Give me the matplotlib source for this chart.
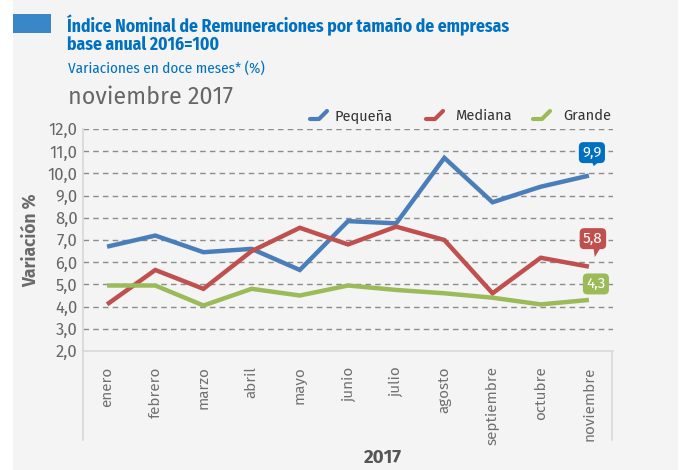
import matplotlib
matplotlib.use("Agg")
import matplotlib.pyplot as plt
from matplotlib.lines import Line2D
from matplotlib.patches import Rectangle

months = ["enero", "febrero", "marzo", "abril", "mayo", "junio", "julio",
          "agosto", "septiembre", "octubre", "noviembre"]
pequena = [6.7, 7.2, 6.45, 6.6, 5.65, 7.85, 7.75, 10.7, 8.7, 9.4, 9.9]
mediana = [4.1, 5.65, 4.8, 6.5, 7.55, 6.8, 7.6, 7.0, 4.6, 6.2, 5.8]
grande = [4.95, 4.95, 4.05, 4.8, 4.5, 4.95, 4.75, 4.6, 4.4, 4.1, 4.3]
yticks = [2.0, 3.0, 4.0, 5.0, 6.0, 7.0, 8.0, 9.0, 10.0, 11.0, 12.0]
series_names = ["Pequeña", "Mediana", "Grande"]
colors = ["#4a7ebb", "#c0504d", "#9bbb59"]
label_colors = ["#0070c0", "#c0504d", "#9bbb59"]

W, H = 683, 470
fig = plt.figure(figsize=(W / 100, H / 100), dpi=100)
fig.patch.set_facecolor("white")
r = fig.canvas.get_renderer()

def fx(px):
    return px / W

def fy(py):
    return 1 - py / H

def fit(t, target):
    w = t.get_window_extent(r).width
    t.set_fontsize(t.get_fontsize() * target / w)

# background panel
fig.patches.append(Rectangle((fx(13), 0), fx(678) - fx(13), 1, transform=fig.transFigure,
                             facecolor="#f4f4f4", edgecolor="none", zorder=-5))
# blue header block
fig.patches.append(Rectangle((fx(13), fy(33)), fx(51) - fx(13), fy(14) - fy(33),
                             transform=fig.transFigure, facecolor="#3a87c8",
                             edgecolor="none", zorder=-4))

cond = ["Fira Sans Condensed", "Roboto Condensed", "DejaVu Sans"]
fira = ["Fira Sans", "Open Sans", "DejaVu Sans"]
t1 = fig.text(fx(67), fy(32), "Índice Nominal de Remuneraciones por tamaño de empresas",
              family=cond, fontweight="bold", fontsize=17, color="#0070c0",
              ha="left", va="baseline")
t2 = fig.text(fx(67), fy(50), "base anual 2016=100",
              family=cond, fontweight="bold", fontsize=17, color="#0070c0",
              ha="left", va="baseline")
fit(t1, 443)
t2.set_fontsize(t1.get_fontsize())

t3 = fig.text(fx(68), fy(73), "Variaciones en doce meses* (%)",
              family=cond, fontsize=13, color="#0070c0",
              ha="left", va="baseline")
fit(t3, 197)
t4 = fig.text(fx(68), fy(104), "noviembre 2017",
              family=fira, fontsize=15, color="#666666", ha="left", va="baseline")
fit(t4, 165)

ax = fig.add_axes([fx(83), fy(351), fx(613) - fx(83), fy(129) - fy(351)])
ax.set_facecolor("none")
x = list(range(len(months)))
for vals, c in zip([pequena, mediana, grande], colors):
    ax.plot(x, vals, color=c, lw=3.2, solid_joinstyle="miter", solid_capstyle="butt", zorder=3)

ax.set_xlim(-0.5, len(months) - 0.5)
ax.set_ylim(2, 12)
ax.set_yticks(yticks)
ax.set_yticklabels([f"{v:.1f}".replace(".", ",") for v in yticks],
                   family=fira, fontsize=12, color="#666666")
ax.tick_params(axis="y", length=0, pad=4)
ax.set_xticks(x)
ax.set_xticklabels(months, rotation=90, family=fira,
                   fontsize=11, color="#707070", va="top")
ax.tick_params(axis="x", length=0, pad=11)
for v in yticks[1:]:
    ax.axhline(v, color="#8c8c8c", lw=1, ls=(0, (4, 3)), zorder=1)
for s in ["top", "right", "left"]:
    ax.spines[s].set_visible(False)
ax.spines["bottom"].set_color("#d8d8d8")
ax.spines["bottom"].set_linewidth(1.2)

# frame of category area + left axis line
fig.lines.append(Line2D([fx(83), fx(83)], [fy(129), fy(440)], transform=fig.transFigure,
                        color="#d8d8d8", lw=1.2))
fig.lines.append(Line2D([fx(612), fx(612)], [fy(351), fy(440)], transform=fig.transFigure,
                        color="#d8d8d8", lw=1.2))

ax.set_ylabel("Variación %", family=fira, fontweight="bold",
              fontsize=12.5, color="#6a6a6a", labelpad=6)
fig.text(fx(383), fy(458), "2017", family=fira, fontweight="bold",
         fontsize=13.5, color="#555555", ha="center", va="center")

# callout labels for last values
offsets = [(3, 23), (4, 28), (7, 16)]
for vals, c, off in zip([pequena, mediana, grande], label_colors, offsets):
    last = vals[-1]
    ax.annotate(f"{last:.1f}".replace(".", ","), xy=(x[-1], last),
                xytext=(off[0], off[1]), textcoords="offset pixels",
                ha="center", va="center", color="white", fontsize=11,
                family=fira,
                bbox=dict(boxstyle="round,pad=0.22,rounding_size=0.3", fc=c, ec="none"),
                zorder=5)
    ax.annotate("", xy=(x[-1] + 0.06 * off[0] / 3, last), xycoords="data",
                xytext=(off[0], off[1] - 9), textcoords="offset pixels",
                arrowprops=dict(arrowstyle="wedge,tail_width=0.5", fc=c, ec="none",
                                shrinkA=0, shrinkB=7), zorder=5)

# legend (manual)
leg_items = [(310, 335), (426, 455), (533, 563)]
for (ix, tx), c, name in zip(leg_items, colors, series_names):
    fig.lines.append(Line2D([fx(ix), fx(ix + 9), fx(ix + 17)],
                            [fy(119), fy(119), fy(111)], transform=fig.transFigure,
                            color=c, lw=3, solid_capstyle="round"))
    fig.text(fx(tx), fy(116), name, family=fira, fontsize=10.5,
             color="#333333", ha="left", va="center")

fig.savefig("out.png", dpi=100, facecolor=fig.get_facecolor())
